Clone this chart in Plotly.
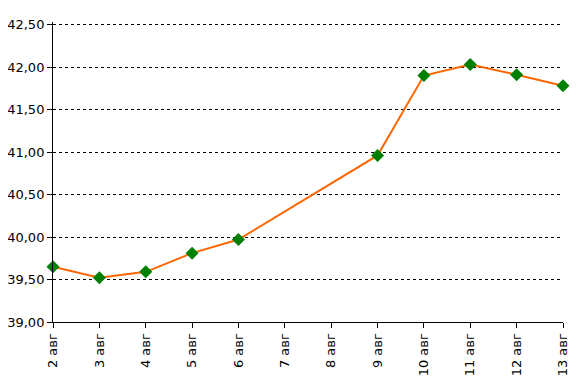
import plotly.graph_objects as go

days = [2, 3, 4, 5, 6, 9, 10, 11, 12, 13]
values = [39.65, 39.52, 39.59, 39.81, 39.97, 40.96, 41.90, 42.03, 41.91, 41.78]
tick_days = list(range(2, 14))
tick_labels = [f"{d} авг" for d in tick_days]
y_ticks = [39.0, 39.5, 40.0, 40.5, 41.0, 41.5, 42.0, 42.5]

fig = go.Figure()
fig.add_trace(go.Scatter(
    x=days, y=values, mode="lines+markers",
    line=dict(color="#FF6600", width=2),
    marker=dict(symbol="diamond", size=10, color="#008000", line=dict(width=0)),
    showlegend=False, cliponaxis=False,
))

fig.update_layout(
    width=580, height=383,
    margin=dict(l=45, r=25, t=14, b=69, autoexpand=False),
    paper_bgcolor="white", plot_bgcolor="white",
    separators=", ",
    font=dict(family="DejaVu Sans", size=13, color="black"),
    xaxis=dict(
        range=[2, 13], tickmode="array", tickvals=tick_days, ticktext=tick_labels,
        tickangle=-90, showgrid=False, zeroline=False, automargin=False,
        showline=True, linecolor="black", linewidth=1,
        ticks="outside", ticklen=5, tickcolor="black",
    ),
    yaxis=dict(
        range=[39, 42.53], tickmode="array", tickvals=y_ticks, tickformat=".2f",
        showgrid=True, gridcolor="black", griddash="3px,3px", gridwidth=1,
        zeroline=False, showline=True, linecolor="black", linewidth=1, automargin=False,
        ticks="outside", ticklen=5, tickcolor="black",
    ),
)

fig.write_html("out.html")
